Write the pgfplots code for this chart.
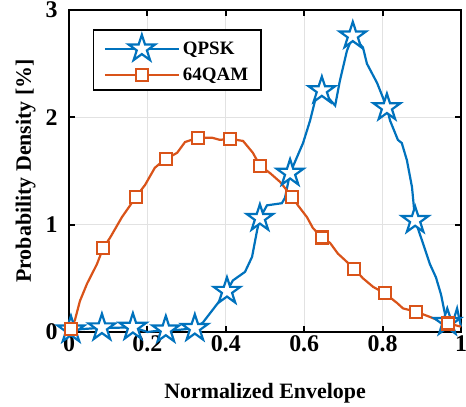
\documentclass[border=0pt]{standalone}
\usepackage{fontspec}
\setmainfont{Liberation Serif}
\usepackage{pgfplots}
\pgfplotsset{compat=1.18}
\definecolor{mblue}{rgb}{0,0.447,0.741}
\definecolor{morange}{rgb}{0.85,0.325,0.098}
\definecolor{mgrid}{RGB}{226,226,226}
\pgfdeclareplotmark{pentagram}{%
  \pgfmathsetmacro\ro{\pgfplotmarksize}%
  \pgfmathsetmacro\ri{0.382*\pgfplotmarksize}%
  \pgfpathmoveto{\pgfpointpolar{90}{\ro pt}}%
  \pgfpathlineto{\pgfpointpolar{126}{\ri pt}}%
  \pgfpathlineto{\pgfpointpolar{162}{\ro pt}}%
  \pgfpathlineto{\pgfpointpolar{198}{\ri pt}}%
  \pgfpathlineto{\pgfpointpolar{234}{\ro pt}}%
  \pgfpathlineto{\pgfpointpolar{270}{\ri pt}}%
  \pgfpathlineto{\pgfpointpolar{306}{\ro pt}}%
  \pgfpathlineto{\pgfpointpolar{342}{\ri pt}}%
  \pgfpathlineto{\pgfpointpolar{18}{\ro pt}}%
  \pgfpathlineto{\pgfpointpolar{54}{\ri pt}}%
  \pgfpathclose
  \pgfusepathqfillstroke
}
\pgfplotsset{
  qline/.style={mblue, line width=2.2bp, mark=none},
  qmark/.style={mblue, line width=2.2bp, only marks, mark=pentagram, mark size=14bp, mark options={fill=white, solid}},
  oline/.style={morange, line width=2.2bp, mark=none},
  omark/.style={morange, line width=2.2bp, only marks, mark=square*, mark size=6bp, mark options={fill=white, solid}},
}
\begin{document}
\begin{tikzpicture}
\begin{axis}[name=ax,
  scale only axis, width=392bp, height=322bp,
  xmin=0, xmax=1, ymin=0, ymax=3,
  xtick={0,0.2,0.4,0.6,0.8,1}, ytick={0,1,2,3},
  grid=major, major grid style={mgrid, line width=1.3bp},
  axis line style={line width=2.4bp, black},
  major tick style={line width=2.2bp, black}, major tick length=6bp,
  tick align=inside,
  clip=false,
  /pgf/number format/assume math mode=true,
  tick label style={font=\fontsize{24}{28}\selectfont\bfseries},
  yticklabel style={xshift=-8bp},
  label style={font=\fontsize{22}{26}\selectfont\bfseries},
  xlabel={Normalized Envelope},
  xlabel style={at={(axis description cs:0.5,0)}, anchor=base, yshift=-66bp},
  ylabel={Probability Density [\%]},
  ylabel style={at={([xshift=-38bp]axis description cs:0,0.5)}, anchor=base},
  legend style={at={(0.0612,0.941)}, anchor=north west, draw=black, line width=1.5bp, fill=white,
    font=\fontsize{19}{22}\selectfont\bfseries, legend cell align=left,
    inner xsep=10bp, inner ysep=5bp, row sep=5bp,
    nodes={inner xsep=3bp, inner ysep=3bp}},
  legend image code/.code={\draw[mark repeat=2,mark phase=2,#1] plot coordinates {(0bp,0bp) (37bp,0bp) (74bp,0bp)};},
]
\addlegendimage{mblue, line width=2.2bp, mark=pentagram, mark size=14bp, mark options={fill=white, solid}}
\addlegendentry{QPSK}
\addlegendimage{morange, line width=2.2bp, mark=square*, mark size=6bp, mark options={fill=white, solid}}
\addlegendentry{64QAM\hspace{7bp}}
\addplot[qline, forget plot] coordinates {
(0.005,0.02) (0.045,0.03) (0.084,0.04) (0.125,0.04) (0.163,0.045) (0.2,0.0)
(0.247,0.02) (0.28,0.02) (0.321,0.035) (0.342,0.09) (0.403,0.38) (0.418,0.48)
(0.449,0.56) (0.467,0.70) (0.48,0.95) (0.487,1.06) (0.505,1.18) (0.543,1.20)
(0.551,1.25) (0.564,1.48) (0.584,1.65) (0.597,1.76) (0.615,1.97) (0.628,2.16)
(0.645,2.25) (0.679,2.11) (0.691,2.34) (0.709,2.62) (0.724,2.76) (0.75,2.65)
(0.76,2.50) (0.773,2.41) (0.786,2.32) (0.811,2.09) (0.819,1.97) (0.839,1.79)
(0.849,1.76) (0.862,1.60) (0.875,1.35) (0.883,1.04) (0.898,0.88) (0.921,0.63)
(0.936,0.51) (0.949,0.35) (0.959,0.17) (0.965,0.09) (0.975,0.04) (0.99,0.22) (1.0,0.05)
};
\addplot[qmark, forget plot] coordinates {
(0.005,0.02) (0.084,0.04) (0.163,0.045) (0.247,0.02) (0.321,0.035) (0.403,0.38)
(0.487,1.06) (0.564,1.48) (0.645,2.25) (0.724,2.76) (0.811,2.09) (0.883,1.04) (0.965,0.09)
};
\addplot[oline, forget plot] coordinates {
(0.005,0.03) (0.015,0.11) (0.028,0.29) (0.046,0.45) (0.071,0.63) (0.087,0.78)
(0.105,0.88) (0.135,1.07) (0.156,1.18) (0.171,1.26) (0.194,1.37) (0.219,1.53)
(0.232,1.57) (0.247,1.61) (0.276,1.67) (0.296,1.77) (0.329,1.81) (0.365,1.81)
(0.385,1.79) (0.41,1.80) (0.444,1.78) (0.469,1.67) (0.487,1.55) (0.513,1.48)
(0.538,1.40) (0.569,1.26) (0.584,1.18) (0.607,1.07) (0.622,0.97) (0.645,0.88)
(0.666,0.83) (0.686,0.73) (0.704,0.67) (0.727,0.59) (0.75,0.50) (0.776,0.42)
(0.806,0.36) (0.837,0.27) (0.852,0.22) (0.885,0.19) (0.921,0.14) (0.941,0.11)
(0.967,0.08) (1.0,0.05)
};
\addplot[omark, forget plot] coordinates {
(0.005,0.03) (0.087,0.78) (0.171,1.26) (0.247,1.61) (0.329,1.81) (0.41,1.80)
(0.487,1.55) (0.569,1.26) (0.645,0.88) (0.727,0.59) (0.806,0.36) (0.885,0.19) (0.967,0.08)
};
\end{axis}
\pgfresetboundingbox
\path ([xshift=-69bp,yshift=-75bp]ax.south west) rectangle ([xshift=5bp,yshift=10bp]ax.north east);
\end{tikzpicture}
\end{document}
